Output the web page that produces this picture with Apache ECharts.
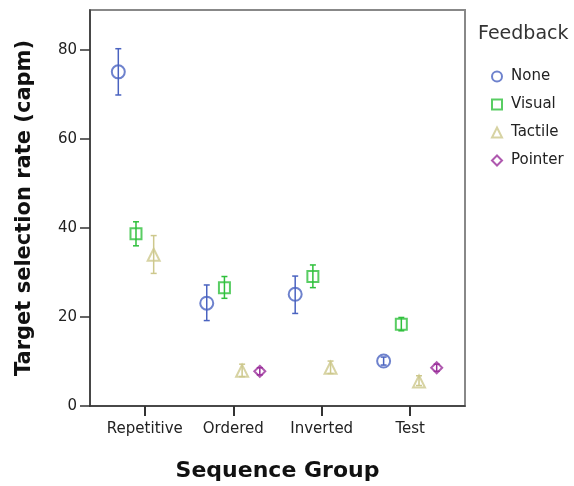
<!DOCTYPE html>
<html>
<head>
<meta charset="utf-8">
<script src="https://cdn.jsdelivr.net/npm/echarts@6/dist/echarts.min.js"></script>
<style>
html, body { margin: 0; padding: 0; background: #fff; }
#chart { width: 574px; height: 486px; }
</style>
</head>
<body>
<div id="chart"></div>
<script>
// sequence groups on the x axis
var categories = ['Repetitive', 'Ordered', 'Inverted', 'Test'];
var feedback = ['None', 'Visual', 'Tactile', 'Pointer'];

// mean and error bar ends, one entry per category (null = no data)
var noneMean = [75.1, 23.1, 25.1, 10.1];
var noneLow = [69.9, 19.2, 20.8, 9.2];
var noneHigh = [80.3, 27.2, 29.2, 11.0];

var visualMean = [38.7, 26.6, 29.1, 18.4];
var visualLow = [36.0, 24.2, 26.6, 16.9];
var visualHigh = [41.4, 29.1, 31.7, 19.9];

var tactileMean = [34.0, 7.9, 8.6, 5.5];
var tactileLow = [29.8, 6.6, 7.3, 4.6];
var tactileHigh = [38.3, 9.4, 10.1, 6.8];

var pointerMean = [null, 7.8, null, 8.6];
var pointerLow = [null, 7.0, null, 7.8];
var pointerHigh = [null, 8.6, null, 9.4];

var yTicks = [0, 20, 40, 60, 80];

var colors = ['#4a63c0', '#2fc03c', '#cdc88c', '#9b2f9b'];
var symbols = ['emptyCircle', 'emptyRect', 'emptyTriangle', 'emptyDiamond'];
var sizes = [13, 11, 12, 11];
var offsets = [-0.3, -0.1, 0.1, 0.3];

var means = [noneMean, visualMean, tactileMean, pointerMean];
var lows = [noneLow, visualLow, tactileLow, pointerLow];
var highs = [noneHigh, visualHigh, tactileHigh, pointerHigh];

var font = 'DejaVu Sans, Liberation Sans, sans-serif';

var series = [];
feedback.forEach(function (name, g) {
    var pts = [], bars = [];
    categories.forEach(function (c, i) {
        if (means[g][i] == null) return;
        pts.push([i + offsets[g], means[g][i]]);
        bars.push([i + offsets[g], lows[g][i], highs[g][i]]);
    });
    series.push({
        name: name,
        type: 'scatter',
        symbol: symbols[g],
        symbolSize: sizes[g],
        itemStyle: { color: colors[g], borderWidth: 1.5 },
        data: pts,
        z: 2
    });
    series.push({
        name: name + ' error',
        type: 'custom',
        z: 3,
        silent: true,
        data: bars,
        renderItem: function (params, api) {
            var top = api.coord([api.value(0), api.value(2)]);
            var bot = api.coord([api.value(0), api.value(1)]);
            var w = 3;
            var st = { stroke: colors[g], lineWidth: 1.5 };
            return {
                type: 'group',
                children: [
                    { type: 'line', shape: { x1: top[0], y1: top[1], x2: bot[0], y2: bot[1] }, style: st },
                    { type: 'line', shape: { x1: top[0] - w, y1: top[1], x2: top[0] + w, y2: top[1] }, style: st },
                    { type: 'line', shape: { x1: bot[0] - w, y1: bot[1], x2: bot[0] + w, y2: bot[1] }, style: st }
                ]
            };
        }
    });
});

var chart = echarts.init(document.getElementById('chart'));
chart.setOption({
    animation: false,
    textStyle: { fontFamily: font },
    grid: {
        left: 90, top: 10, right: 109, bottom: 80,
        outerBoundsMode: 'none',
        containLabel: false,
        show: true, borderColor: '#888', borderWidth: 2
    },
    title: {
        text: 'Feedback',
        left: 473, top: 20,
        textStyle: { fontFamily: font, fontSize: 19, fontWeight: 'normal', color: '#333' }
    },
    legend: {
        data: feedback,
        orient: 'vertical',
        left: 486, top: 64,
        itemWidth: 10, itemHeight: 10,
        itemGap: 13,
        textStyle: { fontFamily: font, fontSize: 15, color: '#222', padding: [0, 0, 0, 4] }
    },
    xAxis: {
        type: 'value',
        min: -0.62, max: 3.62,
        name: 'Sequence Group',
        nameLocation: 'middle',
        nameGap: 54,
        nameTextStyle: { fontFamily: font, fontSize: 22, fontWeight: 'bold', color: '#111' },
        axisLine: { onZero: false, lineStyle: { color: '#333', width: 1.5 } },
        axisTick: { customValues: [0, 1, 2, 3], length: 10, lineStyle: { color: '#333', width: 2 } },
        axisLabel: {
            customValues: [0, 1, 2, 3],
            fontFamily: font, fontSize: 15, color: '#222', margin: 16,
            formatter: function (v) { return categories[Math.round(v)]; }
        },
        splitLine: { show: false }
    },
    yAxis: {
        type: 'value',
        min: 0, max: 89,
        name: 'Target selection rate (capm)',
        nameLocation: 'middle',
        nameGap: 55,
        nameTextStyle: { fontFamily: font, fontSize: 21, fontWeight: 'bold', color: '#111' },
        axisLine: { show: true, onZero: false, lineStyle: { color: '#333', width: 1.5 } },
        axisTick: { show: true, customValues: yTicks, length: 10, lineStyle: { color: '#333', width: 1.5 } },
        axisLabel: { customValues: yTicks, fontFamily: font, fontSize: 15, color: '#222', margin: 13 },
        splitLine: { show: false }
    },
    series: series
});
</script>
</body>
</html>
